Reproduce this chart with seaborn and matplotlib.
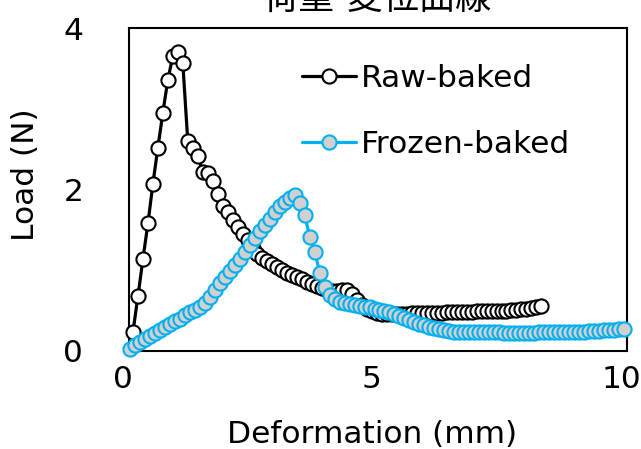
"""
Load-deformation curves for raw-baked vs frozen-baked samples.
"""

import matplotlib
matplotlib.use("Agg")
import matplotlib.pyplot as plt
import matplotlib.transforms as mtransforms
import pandas as pd
import seaborn as sns

TITLE = "荷重-変位曲線"
X_LABEL = "Deformation (mm)"
Y_LABEL = "Load (N)"
X_TICKS = [0, 5, 10]
Y_TICKS = [0, 2, 4]

# Raw-baked: deformation (mm) and load (N)
raw_x = [0.08, 0.18, 0.28, 0.38, 0.48, 0.58, 0.68, 0.78, 0.88, 0.98,
         1.08, 1.18, 1.28, 1.38, 1.48, 1.58, 1.68, 1.78, 1.88, 1.98,
         2.08, 2.18, 2.28, 2.38, 2.48, 2.58, 2.68, 2.78, 2.88, 2.98,
         3.08, 3.18, 3.28, 3.38, 3.48, 3.58, 3.68, 3.78, 3.88, 3.98,
         4.08, 4.18, 4.28, 4.38, 4.48, 4.58, 4.68, 4.78, 4.88, 4.98,
         5.08, 5.18, 5.28, 5.38, 5.48, 5.58, 5.68, 5.78, 5.88, 5.98,
         6.08, 6.18, 6.28, 6.38, 6.48, 6.58, 6.68, 6.78, 6.88, 6.98,
         7.08, 7.18, 7.28, 7.38, 7.48, 7.58, 7.68, 7.78, 7.88, 7.98,
         8.08, 8.18, 8.28]
raw_load = [0.24, 0.68, 1.14, 1.58, 2.07, 2.52, 2.95, 3.36, 3.65, 3.70,
            3.57, 2.60, 2.52, 2.42, 2.22, 2.20, 2.11, 1.95, 1.79, 1.72,
            1.62, 1.53, 1.45, 1.37, 1.28, 1.20, 1.15, 1.12, 1.08, 1.04,
            1.00, 0.97, 0.94, 0.92, 0.89, 0.86, 0.83, 0.80, 0.78, 0.76,
            0.74, 0.74, 0.76, 0.76, 0.70, 0.63, 0.57, 0.52, 0.49, 0.47,
            0.46, 0.46, 0.46, 0.46, 0.46, 0.46, 0.47, 0.47, 0.47, 0.47,
            0.47, 0.47, 0.47, 0.48, 0.48, 0.48, 0.48, 0.48, 0.48, 0.49,
            0.49, 0.49, 0.49, 0.50, 0.50, 0.50, 0.51, 0.51, 0.52, 0.52,
            0.53, 0.54, 0.56]

# Frozen-baked
frozen_x = [0.03, 0.13, 0.23, 0.33, 0.43, 0.53, 0.63, 0.73, 0.83, 0.93,
            1.03, 1.13, 1.23, 1.33, 1.43, 1.53, 1.63, 1.73, 1.83, 1.93,
            2.03, 2.13, 2.23, 2.33, 2.43, 2.53, 2.63, 2.73, 2.83, 2.93,
            3.03, 3.13, 3.23, 3.33, 3.43, 3.53, 3.63, 3.73, 3.83, 3.93,
            4.03, 4.13, 4.23, 4.33, 4.43, 4.53, 4.63, 4.73, 4.83, 4.93,
            5.03, 5.13, 5.23, 5.33, 5.43, 5.53, 5.63, 5.73, 5.83, 5.93,
            6.03, 6.13, 6.23, 6.33, 6.43, 6.53, 6.63, 6.73, 6.83, 6.93,
            7.03, 7.13, 7.23, 7.33, 7.43, 7.53, 7.63, 7.73, 7.83, 7.93,
            8.03, 8.13, 8.23, 8.33, 8.43, 8.53, 8.63, 8.73, 8.83, 8.93,
            9.03, 9.13, 9.23, 9.33, 9.43, 9.53, 9.63, 9.73, 9.83, 9.93]
frozen_load = [0.03, 0.07, 0.11, 0.15, 0.19, 0.22, 0.26, 0.30, 0.34, 0.37,
               0.40, 0.44, 0.48, 0.51, 0.55, 0.60, 0.67, 0.75, 0.84, 0.92,
               0.99, 1.06, 1.14, 1.23, 1.31, 1.40, 1.48, 1.56, 1.64, 1.72,
               1.79, 1.84, 1.89, 1.93, 1.83, 1.68, 1.41, 1.23, 0.97, 0.79,
               0.69, 0.64, 0.61, 0.59, 0.58, 0.57, 0.56, 0.55, 0.54, 0.52,
               0.51, 0.50, 0.48, 0.46, 0.43, 0.41, 0.39, 0.36, 0.34, 0.32,
               0.30, 0.28, 0.27, 0.26, 0.25, 0.24, 0.24, 0.23, 0.23, 0.23,
               0.23, 0.23, 0.23, 0.23, 0.23, 0.22, 0.22, 0.22, 0.22, 0.22,
               0.22, 0.22, 0.23, 0.23, 0.23, 0.23, 0.23, 0.23, 0.23, 0.24,
               0.24, 0.24, 0.25, 0.25, 0.25, 0.26, 0.26, 0.26, 0.27, 0.27]

BLUE = "#00B0F0"
GREY = "#D0D0D0"
FS = 22.5

sns.set_style("white")
plt.rcParams["font.family"] = ["DejaVu Sans", "Noto Sans CJK JP"]
plt.rcParams["text.color"] = "black"

fig = plt.figure(figsize=(6.41, 4.49), dpi=100)
ax = fig.add_axes([129 / 641, 98 / 449, 498 / 641, 323 / 449])

raw = pd.DataFrame({"x": raw_x, "load": raw_load})
frozen = pd.DataFrame({"x": frozen_x, "load": frozen_load})

common = dict(estimator=None, sort=False, marker="o", markersize=10.2,
              markeredgewidth=1.5, linewidth=2.3, clip_on=False, ax=ax)
sns.lineplot(data=raw, x="x", y="load", color="black",
             markerfacecolor="white", markeredgecolor="black",
             label="Raw-baked", zorder=3, **common)
sns.lineplot(data=frozen, x="x", y="load", color=BLUE,
             markerfacecolor=GREY, markeredgecolor=BLUE,
             label="Frozen-baked", zorder=4, **common)

ax.set_xlim(0, 10)
ax.set_ylim(0, 4)
ax.set_xticks(X_TICKS)
ax.set_yticks(Y_TICKS)
for s in ax.spines.values():
    s.set_visible(True)
    s.set_color("black")
    s.set_linewidth(1.5)
ax.tick_params(direction="in", length=6, width=1.5, color="black",
               labelsize=FS, labelcolor="black")
ax.tick_params(axis="x", pad=10)
ax.tick_params(axis="y", pad=33)

# labels sit slightly left of their ticks in the original
shift = mtransforms.ScaledTranslation(-6 / 100, 0, fig.dpi_scale_trans)
for lab in ax.get_xticklabels():
    lab.set_transform(lab.get_transform() + shift)

ax.set_xlabel(X_LABEL, fontsize=FS, color="black")
ax.set_ylabel(Y_LABEL, fontsize=FS, color="black")
ax.xaxis.set_label_coords(0.488, -0.215)
ax.yaxis.set_label_coords(-0.178, 0.545)

leg = ax.legend(loc="upper left", bbox_to_anchor=(0.347, 0.89),
                frameon=False, fontsize=FS, handlelength=1.75,
                handletextpad=0.15, labelspacing=1.2, borderpad=0,
                borderaxespad=0)
for t in leg.get_texts():
    t.set_color("black")

fig.text(378 / 641, 1 - 9 / 449, TITLE, family="Noto Sans CJK JP",
         fontsize=26, ha="center", va="baseline", color="black")

fig.savefig("out.png", dpi=100)
